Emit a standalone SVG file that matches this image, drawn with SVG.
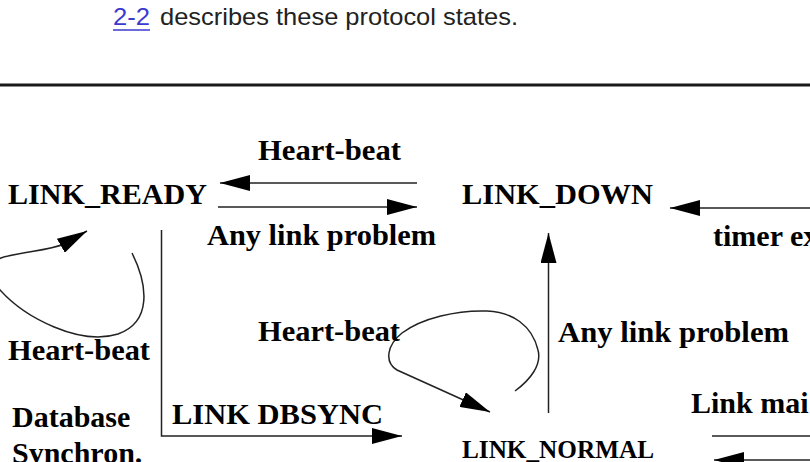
<svg xmlns="http://www.w3.org/2000/svg" width="810" height="462" viewBox="0 0 810 462">
<style>
.t{font-family:"Liberation Serif","Times New Roman",serif;font-weight:bold;font-size:30px;fill:#000}
.s{font-size:25px}
.body{font-family:"Liberation Sans",Arial,sans-serif;font-size:24px;fill:#222}
.link{fill:#3a3ad0}
.c{fill:none;stroke:#222;stroke-width:1.5}
</style>
<defs>
<marker id="ah" viewBox="0 0 30 16" markerWidth="30" markerHeight="16" refX="30" refY="8" orient="auto" markerUnits="userSpaceOnUse">
<path d="M0,0 L30,8 L0,16 z" fill="#000"/>
</marker>
</defs>
<rect width="810" height="462" fill="#fff"/>
<g id="intro">
<text class="body link" x="113" y="25" textLength="37" lengthAdjust="spacingAndGlyphs">2-2</text>
<line x1="113" y1="30" x2="150" y2="30" stroke="#3a3ad0" stroke-width="1.5"/>
<text class="body" x="160" y="25" textLength="358" lengthAdjust="spacingAndGlyphs">describes these protocol states.</text>
<rect x="0" y="83.5" width="810" height="3" fill="#1a1a1a"/>
</g>
<g id="connectors">
<path class="c" d="M417,183 H220" marker-end="url(#ah)"/>
<path class="c" d="M218,207 H417" marker-end="url(#ah)"/>
<path class="c" d="M812,208 H670" marker-end="url(#ah)"/>
<path class="c" d="M548.5,413 V233" marker-end="url(#ah)"/>
<path class="c" d="M161.5,230 V436 H402" marker-end="url(#ah)"/>
<path class="c" d="M132,253 C148,285 152,322 118,334 C80,346 25,318 0,290 C-18,270 -8,259 8,256 C30,251 50,250 64,244 L87,231" marker-end="url(#ah)"/>
<path class="c" d="M515,391 C530,380 542,365 538,350 C532,325 512,312 487,311 C457,310 422,318 402,333 C387,345 384,362 397,370 L490,412" marker-end="url(#ah)"/>
<path class="c" d="M712,436 H812"/>
<path class="c" d="M812,460 H714" marker-end="url(#ah)"/>
</g>
<g id="labels">
<text class="t" x="258" y="160" textLength="143" lengthAdjust="spacingAndGlyphs">Heart-beat</text>
<text class="t" x="207" y="245" textLength="229" lengthAdjust="spacingAndGlyphs">Any link problem</text>
<text class="t" x="713" y="246">timer ex</text>
<text class="t" x="258" y="341" textLength="142" lengthAdjust="spacingAndGlyphs">Heart-beat</text>
<text class="t" x="558" y="342" textLength="231" lengthAdjust="spacingAndGlyphs">Any link problem</text>
<text class="t" x="8" y="360" textLength="142" lengthAdjust="spacingAndGlyphs">Heart-beat</text>
<text class="t" x="12" y="427">Database</text>
<text class="t" x="12" y="463">Synchron.</text>
<text class="t" x="172" y="424" textLength="211" lengthAdjust="spacingAndGlyphs">LINK DBSYNC</text>
<text class="t" x="691" y="413">Link mai</text>
</g>
<g id="LINK_READY"><text class="t" x="8" y="204" textLength="199" lengthAdjust="spacingAndGlyphs">LINK_READY</text></g>
<g id="LINK_DOWN"><text class="t" x="462" y="204" textLength="191" lengthAdjust="spacingAndGlyphs">LINK_DOWN</text></g>
<g id="LINK_NORMAL"><text class="t s" x="462" y="458" textLength="192" lengthAdjust="spacingAndGlyphs">LINK_NORMAL</text></g>
</svg>
